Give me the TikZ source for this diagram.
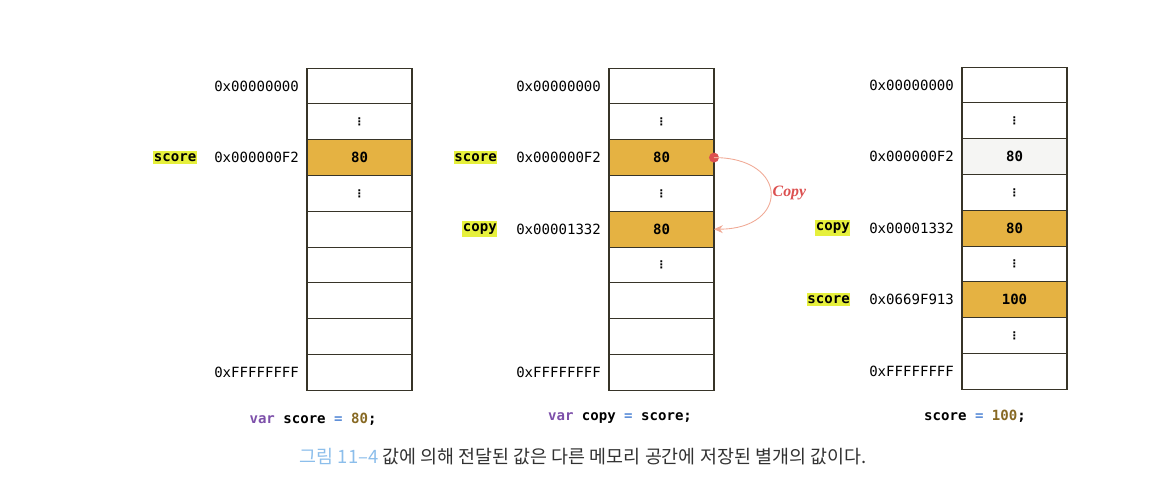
\documentclass[tikz,border=0pt]{standalone}
\usepackage{fontspec}
\setmonofont{DejaVu Sans Mono}
\newfontfamily\krfont{Noto Sans CJK KR}
\newfontfamily\dotfont{DejaVu Sans}
\newfontfamily\copyfont{Liberation Serif}
\usetikzlibrary{positioning,arrows.meta}

\definecolor{celledge}{RGB}{55,52,40}
\definecolor{memgold}{RGB}{229,178,66}
\definecolor{oldgray}{RGB}{245,245,243}
\definecolor{hilite}{RGB}{230,240,60}
\definecolor{kwpurple}{RGB}{125,80,170}
\definecolor{opblue}{RGB}{90,140,215}
\definecolor{numbrown}{RGB}{135,105,35}
\definecolor{copyred}{RGB}{220,80,80}
\definecolor{copyline}{RGB}{240,170,150}
\definecolor{capblue}{RGB}{140,190,235}
\definecolor{captext}{RGB}{50,50,50}

\tikzset{
  cell/.style={draw=celledge, line width=0.6pt, minimum width=2.1cm,
    minimum height=0.716cm, inner sep=0pt, outer sep=0pt,
    font=\ttfamily\bfseries\fontsize{8}{9}\selectfont},
  used/.style={cell, fill=memgold},
  addr/.style={font=\ttfamily\fontsize{8}{9}\selectfont, inner sep=1pt},
  var/.style={fill=hilite, inner xsep=0.3pt, inner ysep=1.5pt,
    font=\ttfamily\bfseries\fontsize{8}{9}\selectfont},
  code/.style={font=\ttfamily\bfseries\fontsize{8}{9}\selectfont},
  copyarrow/.style={draw=copyline, line width=0.5pt,
    -{Stealth[length=5pt,width=4.5pt]}},
  copylbl/.style={text=copyred, inner sep=1pt,
    font=\copyfont\bfseries\itshape\fontsize{9}{10}\selectfont}
}
\newcommand{\vd}{{\dotfont\bfseries\fontsize{6}{6}\selectfont ⋮}}

\begin{document}
\begin{tikzpicture}[x=0.02cm, y=-0.02cm]
  \useasboundingbox (0,0) rectangle (1164,502);

  % stack 1
  \node[cell] (a0) at (359.5,86) {};
  \node[cell, below=0pt of a0] (a1) {\vd};
  \node[used, below=0pt of a1] (a2) {80};
  \node[cell, below=0pt of a2] (a3) {\vd};
  \node[cell, below=0pt of a3] (a4) {};
  \node[cell, below=0pt of a4] (a5) {};
  \node[cell, below=0pt of a5] (a6) {};
  \node[cell, below=0pt of a6] (a7) {};
  \node[cell, below=0pt of a7] (a8) {};
  \node[addr, left=0.12cm of a0] (a0addr) {0x00000000};
  \node[addr, left=0.12cm of a2] (a2addr) {0x000000F2};
  \node[addr, left=0.12cm of a8] (a8addr) {0xFFFFFFFF};
  \node[var, left=0.3cm of a2addr] (ascore) {score};
  \node[code, below=0.34cm of a8, xshift=-0.93cm] (acode)
    {\textcolor{kwpurple}{var} score \textcolor{opblue}{=} \textcolor{numbrown}{80};};

  % stack 2
  \node[cell] (b0) at (661.5,86) {};
  \node[cell, below=0pt of b0] (b1) {\vd};
  \node[used, below=0pt of b1] (b2) {80};
  \node[cell, below=0pt of b2] (b3) {\vd};
  \node[used, below=0pt of b3] (b4) {80};
  \node[cell, below=0pt of b4] (b5) {\vd};
  \node[cell, below=0pt of b5] (b6) {};
  \node[cell, below=0pt of b6] (b7) {};
  \node[cell, below=0pt of b7] (b8) {};
  \node[addr, left=0.12cm of b0] (b0addr) {0x00000000};
  \node[addr, left=0.12cm of b2] (b2addr) {0x000000F2};
  \node[addr, left=0.12cm of b4] (b4addr) {0x00001332};
  \node[addr, left=0.12cm of b8] (b8addr) {0xFFFFFFFF};
  \node[var, left=0.33cm of b2addr] (bscore) {score};
  \node[var, left=0.33cm of b4addr] (bcopy) {copy};
  \node[code, below=0.32cm of b8, xshift=-0.83cm] (bcode)
    {\textcolor{kwpurple}{var} copy \textcolor{opblue}{=} score;};

  \fill[copyred] (b2.east) circle (0.1cm);
  \draw[copyarrow] (b2.east) to[out=0, in=0, looseness=2.7]
    node[copylbl, right] {Copy} (b4.east);

  % stack 3
  \node[cell] (c0) at (1014.5,85) {};
  \node[cell, below=0pt of c0] (c1) {\vd};
  \node[cell, fill=oldgray, below=0pt of c1] (c2) {80};
  \node[cell, below=0pt of c2] (c3) {\vd};
  \node[used, below=0pt of c3] (c4) {80};
  \node[cell, below=0pt of c4] (c5) {\vd};
  \node[used, below=0pt of c5] (c6) {100};
  \node[cell, below=0pt of c6] (c7) {\vd};
  \node[cell, below=0pt of c7] (c8) {};
  \node[addr, left=0.12cm of c0] (c0addr) {0x00000000};
  \node[addr, left=0.12cm of c2] (c2addr) {0x000000F2};
  \node[addr, left=0.12cm of c4] (c4addr) {0x00001332};
  \node[addr, left=0.12cm of c6] (c6addr) {0x0669F913};
  \node[addr, left=0.12cm of c8] (c8addr) {0xFFFFFFFF};
  \node[var, left=0.33cm of c4addr] (ccopy) {copy};
  \node[var, left=0.33cm of c6addr] (cscore) {score};
  \node[code, below=0.3cm of c8, xshift=-0.79cm] (ccode)
    {score \textcolor{opblue}{=} \textcolor{numbrown}{100};};

  % caption
  \node[font=\krfont\fontsize{10.5}{12}\selectfont, text=captext] (cap) at (583,457)
    {\textcolor{capblue}{그림 11–4} 값에 의해 전달된 값은 다른 메모리 공간에 저장된 별개의 값이다.};
\end{tikzpicture}
\end{document}
